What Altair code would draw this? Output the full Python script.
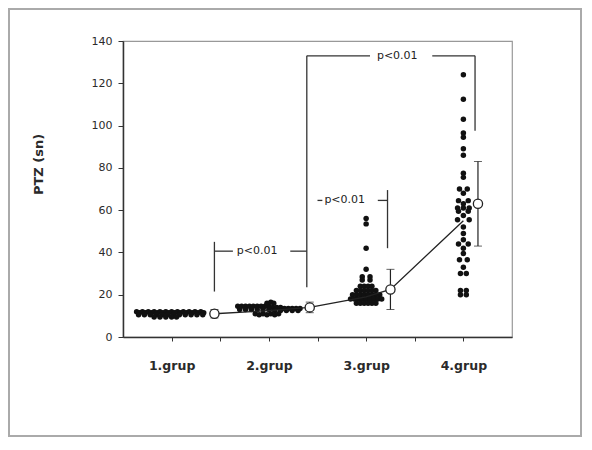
import altair as alt
import pandas as pd

# ---------------- data ----------------
groups = ["1.grup", "2.grup", "3.grup", "4.grup"]

# individual observations: horizontal jitter (category units) and PTZ value (sn)
g1_off = [-0.36, -0.33, -0.30, -0.27, -0.24, -0.21, -0.18, -0.15, -0.12, -0.09, -0.06, -0.03,
          0.00, 0.03, 0.06, 0.09, 0.12, 0.15, 0.18, 0.21, 0.24, 0.27, 0.30, 0.33,
          -0.34, -0.28, -0.22, -0.16, -0.10, -0.04, 0.02, 0.08, 0.14, 0.20, 0.26, 0.32,
          -0.18, -0.12, -0.06, 0.00, 0.05]
g1_val = [12.0, 11.5, 12.0, 11.5, 12.0, 11.5, 12.0, 11.5, 12.0, 11.5, 12.0, 11.5,
          12.0, 11.5, 12.0, 11.5, 12.0, 11.5, 12.0, 11.5, 12.0, 11.5, 12.0, 11.5,
          10.5, 10.5, 10.5, 10.5, 10.5, 10.5, 10.5, 10.5, 10.5, 10.5, 10.5, 10.5,
          9.5, 9.5, 9.5, 9.5, 9.5]

g2_off = [-0.32, -0.28, -0.24, -0.20, -0.16, -0.12, -0.08, -0.04, 0.00, 0.04, 0.08, 0.12,
          0.16, 0.20, 0.24, 0.28, 0.32,
          -0.30, -0.24, -0.18, -0.12, -0.06, 0.00, 0.06, 0.12, 0.18, 0.24, 0.30,
          -0.02, 0.02, 0.05,
          -0.14, -0.10, -0.06, -0.02, 0.02, 0.06, 0.10]
g2_val = [14.5, 14.5, 14.5, 14.5, 14.5, 14.5, 14.5, 14.5, 14.5, 14.0, 14.0, 14.0,
          13.5, 13.5, 13.5, 13.5, 13.5,
          13.0, 13.0, 13.0, 13.0, 13.0, 13.0, 12.5, 12.5, 12.5, 12.5, 12.5,
          16.0, 16.5, 16.0,
          11.0, 10.5, 11.0, 10.5, 11.0, 10.5, 11.0]

g3_off = [0.00, 0.00, 0.00, 0.00, -0.04, 0.04, -0.04, 0.04,
          -0.06, -0.02, 0.02, 0.06,
          -0.10, -0.06, -0.02, 0.02, 0.06, 0.10,
          -0.14, -0.10, -0.06, -0.02, 0.02, 0.06, 0.10, 0.14,
          -0.16, -0.12, -0.08, -0.04, 0.00, 0.04, 0.08, 0.12, 0.16,
          -0.10, -0.06, -0.02, 0.02, 0.06, 0.10]
g3_val = [56.0, 53.5, 42.0, 32.0, 28.5, 28.5, 27.0, 27.0,
          24.0, 24.0, 24.0, 24.0,
          22.0, 22.0, 22.0, 22.0, 22.0, 22.0,
          20.0, 20.0, 20.0, 20.0, 20.0, 20.0, 20.0, 20.0,
          18.0, 18.0, 18.0, 18.0, 18.0, 18.0, 18.0, 18.0, 18.0,
          16.0, 16.0, 16.0, 16.0, 16.0, 16.0]

g4_off = [0.00, 0.00, 0.00, 0.00, 0.00, 0.00, 0.00, 0.00, 0.00,
          -0.04, 0.04, 0.00, -0.05, 0.05, 0.00, -0.06, 0.00, 0.06, -0.05, 0.05,
          0.00, -0.06, 0.06, 0.00, 0.00, 0.00, -0.05, 0.05, 0.00, 0.00,
          -0.04, 0.04, 0.00, -0.03, 0.03, -0.03, 0.03, -0.03, 0.03]
g4_val = [124.0, 112.5, 103.0, 96.5, 94.5, 89.0, 86.0, 77.5, 75.5,
          70.0, 70.0, 68.0, 64.5, 64.5, 63.0, 61.0, 61.0, 61.0, 59.5, 59.5,
          57.5, 55.5, 55.5, 52.0, 49.0, 46.0, 44.0, 44.0, 42.0, 39.5,
          36.5, 36.5, 33.0, 30.0, 30.0, 22.0, 22.0, 20.0, 20.0]

# group means (open circles), their positions and the error bars
mean_pos = [1.44, 2.42, 3.25, 4.15]
mean_val = [11.0, 14.0, 22.5, 63.0]
mean_sd = [2.0, 2.5, 9.5, 20.0]

# connecting line
line_pos = [1.44, 2.0, 2.42, 3.0, 3.25, 4.0]
line_val = [11.0, 12.5, 14.0, 19.0, 22.5, 55.0]

# significance brackets (segments) and their labels
seg_x = [1.44, 1.44, 2.22, 2.39, 2.39, 3.68, 4.12, 2.50, 3.12, 3.22]
seg_x2 = [1.44, 1.63, 2.39, 2.39, 3.04, 4.12, 4.12, 2.55, 3.22, 3.22]
seg_y = [21.5, 40.6, 40.6, 23.5, 133.0, 133.0, 97.5, 64.6, 64.6, 42.0]
seg_y2 = [45.0, 40.6, 40.6, 133.0, 133.0, 133.0, 133.0, 64.6, 64.6, 69.5]
lab_x = [1.88, 3.32, 2.78]
lab_y = [40.6, 133.0, 64.6]
lab_t = ["p<0.01", "p<0.01", "p<0.01"]

# ---------------- tables ----------------
rows = []
for g, (offs, vals) in enumerate([(g1_off, g1_val), (g2_off, g2_val),
                                   (g3_off, g3_val), (g4_off, g4_val)], start=1):
    for o, v in zip(offs, vals):
        rows.append({"x": g + o, "v": v})
dots = pd.DataFrame(rows)
means = pd.DataFrame({"x": mean_pos, "v": mean_val,
                      "lo": [m - s for m, s in zip(mean_val, mean_sd)],
                      "hi": [m + s for m, s in zip(mean_val, mean_sd)]})
line = pd.DataFrame({"x": line_pos, "v": line_val})
segs = pd.DataFrame({"x": seg_x, "x2": seg_x2, "y": seg_y, "y2": seg_y2})
labs = pd.DataFrame({"x": lab_x, "y": lab_y, "t": lab_t})

FONT = "DejaVu Sans"
xscale = alt.Scale(domain=[0.5, 4.5], nice=False, zero=False)
yscale = alt.Scale(domain=[0, 140], nice=False)

label_expr = ("datum.value == 1 ? '1.grup' : datum.value == 2 ? '2.grup' : "
              "datum.value == 3 ? '3.grup' : datum.value == 4 ? '4.grup' : ''")

x_axis = alt.Axis(values=[1, 1.5, 2, 2.5, 3, 3.5, 4], labelExpr=label_expr,
                  grid=False, tickSize=4, labelPadding=18, labelFont=FONT,
                  labelFontSize=12.5, labelFontWeight="bold", labelColor="#2a2a2a",
                  domainColor="#333", domainWidth=1.5, tickColor="#333")
y_axis = alt.Axis(values=list(range(0, 141, 20)), grid=False,
                  tickSize=5, labelPadding=6, labelFont=FONT, labelFontSize=11,
                  labelColor="#2a2a2a", domainColor="#333", domainWidth=1.5,
                  tickColor="#333", titleFont=FONT, titleFontSize=13,
                  titleFontWeight="bold", titleColor="#2a2a2a", titleX=-85, titleY=123,
                  titleAngle=270, titleAlign="center", titleBaseline="middle")


def X(field):
    return alt.X(field, scale=xscale, axis=x_axis, title=None)


def Y(field):
    return alt.Y(field, scale=yscale, axis=y_axis, title="PTZ (sn)")


frame = alt.Chart(pd.DataFrame({"a": [0]})).mark_rect(
    fill=None, stroke="#aaa", strokeWidth=2
).encode(x=alt.value(-114), x2=alt.value(458), y=alt.value(-32), y2=alt.value(395))

scatter = alt.Chart(dots).mark_circle(size=30, color="#111", opacity=1).encode(
    x=X("x:Q"), y=Y("v:Q"))

mean_line = alt.Chart(line).mark_line(color="#222", strokeWidth=1.3).encode(
    x=X("x:Q"), y=Y("v:Q"))

err = alt.Chart(means).mark_errorbar(ticks=alt.MarkConfig(size=8),
                                     rule=alt.MarkConfig(strokeWidth=1.2),
                                     color="#222").encode(
    x=X("x:Q"), y=Y("lo:Q"), y2="hi:Q")

mean_pts = alt.Chart(means).mark_point(shape="circle", size=85, filled=True,
                                       fill="white", stroke="#222", strokeWidth=1.3,
                                       opacity=1).encode(
    x=X("x:Q"), y=Y("v:Q"))

brackets = alt.Chart(segs).mark_rule(color="#333", strokeWidth=1.3).encode(
    x=X("x:Q"), x2="x2:Q", y=Y("y:Q"), y2="y2:Q")

texts = alt.Chart(labs).mark_text(font=FONT, fontSize=11, color="#222").encode(
    x=X("x:Q"), y=Y("y:Q"), text="t:N")

chart = alt.layer(frame, scatter, mean_line, err, mean_pts, brackets, texts).properties(
    width=389, height=296,
    padding={"left": 115, "top": 33, "right": 70, "bottom": 100},
    autosize=alt.AutoSizeParams(type="none"),
    background="white",
).configure_view(stroke="#999", strokeWidth=1.2)

chart.save("out.html", embed_options={"renderer": "svg", "actions": False})
